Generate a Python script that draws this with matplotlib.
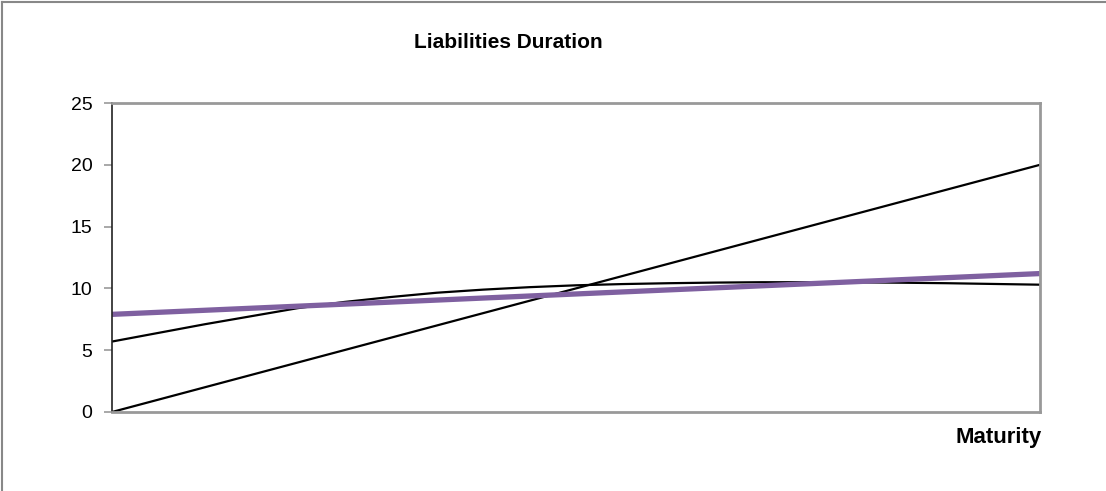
import matplotlib
matplotlib.use("Agg")
import matplotlib.pyplot as plt
from matplotlib.lines import Line2D

plt.rcParams['font.family'] = ['Liberation Sans', 'DejaVu Sans']

# Data
maturity = list(range(0, 21))
zero_coupon = [0, 1, 2, 3, 4, 5, 6, 7, 8, 9, 10, 11, 12, 13, 14, 15, 16, 17, 18, 19, 20]
coupon_bond = [5.7, 6.4, 7.1, 7.75, 8.4, 8.9, 9.3, 9.65, 9.9, 10.1, 10.25,
               10.35, 10.42, 10.47, 10.5, 10.5, 10.49, 10.46, 10.42, 10.36, 10.3]
liab_maturity = [0, 20]
liabilities = [7.9, 11.2]
yticks = [0, 5, 10, 15, 20, 25]

fig = plt.figure(figsize=(11.06, 4.91), dpi=100)
ax = fig.add_axes([112/1106, 1 - 412/491, (1040-112)/1106, (412-103)/491])

ax.plot(maturity, zero_coupon, color='black', lw=1.6, solid_capstyle='butt')
ax.plot(maturity, coupon_bond, color='black', lw=1.6, solid_capstyle='butt')
ax.plot(liab_maturity, liabilities, color='#7f60a0', lw=3.8, solid_capstyle='butt')

ax.set_xlim(0, 20)
ax.set_ylim(0, 25)
ax.set_xticks([])
ax.set_yticks(yticks)
ax.set_yticklabels([str(v) for v in yticks], fontsize=14)
ax.tick_params(axis='y', direction='out', length=6, width=1.2, color='#999999', pad=8)

for s in ['top', 'right', 'bottom']:
    ax.spines[s].set_color('#999999')
    ax.spines[s].set_linewidth(2)
ax.spines['left'].set_color('#222222')
ax.spines['left'].set_linewidth(1.2)

fig.text(508/1106, 1 - 42/491, 'Liabilities Duration', fontsize=15, fontweight='bold',
         ha='center', va='center')
fig.text(1042/1106, 1 - 437/491, 'Maturity', fontsize=16, fontweight='bold',
         ha='right', va='center')

# figure border (top and left visible)
fig.add_artist(Line2D([2/1106, 2/1106], [0, 1 - 2/491], transform=fig.transFigure,
                      color='#888888', lw=1.5))
fig.add_artist(Line2D([2/1106, 1], [1 - 2/491, 1 - 2/491], transform=fig.transFigure,
                      color='#888888', lw=1.5))

fig.savefig('out.png', dpi=100)
